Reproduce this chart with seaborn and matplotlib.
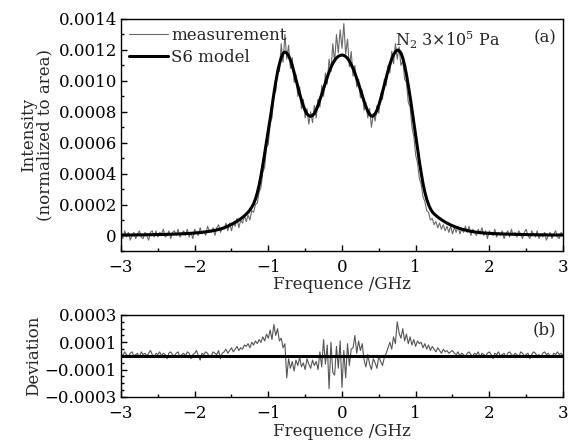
import numpy as np
import pandas as pd
import matplotlib
matplotlib.use("Agg")
import matplotlib.pyplot as plt
from matplotlib.ticker import MultipleLocator, AutoMinorLocator, FuncFormatter
import seaborn as sns

# ── Données (unités de 1e-5, pas de 0.025 GHz de -3 à 3) ─────────────────────
MODEL_S6 = [
    # -3.000 .. -0.025
    0.3, 0.3, 0.3, 0.3, 0.3, 0.3, 0.3, 0.3, 0.4, 0.4,
    0.4, 0.4, 0.4, 0.4, 0.5, 0.5, 0.5, 0.5, 0.5, 0.6,
    0.6, 0.6, 0.6, 0.7, 0.7, 0.7, 0.8, 0.8, 0.8, 0.9,
    0.9, 1.0, 1.0, 1.1, 1.1, 1.2, 1.3, 1.3, 1.4, 1.5,
    1.6, 1.7, 1.8, 1.9, 2.0, 2.2, 2.3, 2.5, 2.7, 2.9,
    3.1, 3.3, 3.6, 3.9, 4.2, 4.6, 5.0, 5.5, 6.0, 6.6,
    7.2, 7.8, 8.5, 9.2, 10.0, 10.8, 11.7, 12.7, 13.8, 15.0,
    16.5, 18.3, 20.5, 23.5, 27.5, 32.5, 38.5, 45.5, 53.0, 60.5,
    68.0, 75.5, 83.5, 91.5, 99.0, 105.5, 110.8, 115.0, 117.8, 118.6,
    118.0, 116.3, 113.4, 109.7, 105.4, 100.8, 96.2, 91.7, 87.5, 83.8,
    80.8, 78.6, 77.4, 77.1, 77.6, 78.9, 81.2, 84.2, 87.6, 91.2,
    95.0, 98.8, 102.4, 105.7, 108.7, 111.2, 113.2, 114.8, 115.8, 116.4,
    # 0.000 .. 3.000
    116.7, 116.4, 115.7, 114.5, 112.8, 110.6, 108.0, 105.0, 101.6, 98.0,
    94.2, 90.4, 86.7, 83.3, 80.4, 78.3, 77.2, 77.3, 78.6, 81.0,
    84.3, 88.3, 92.7, 97.3, 102.0, 106.5, 110.6, 114.1, 116.9, 118.9,
    119.9, 119.6, 118.0, 114.8, 110.0, 104.0, 97.0, 89.5, 81.5, 73.0,
    64.5, 56.0, 48.0, 40.5, 33.5, 28.0, 23.5, 20.0, 17.3, 15.3,
    14.0, 12.9, 11.9, 11.0, 10.2, 9.4, 8.7, 8.0, 7.4, 6.8,
    6.3, 5.8, 5.3, 4.9, 4.5, 4.1, 3.8, 3.5, 3.2, 2.9,
    2.7, 2.5, 2.3, 2.1, 2.0, 1.8, 1.7, 1.6, 1.5, 1.4,
    1.3, 1.3, 1.2, 1.2, 1.1, 1.1, 1.0, 1.0, 0.9, 0.9,
    0.9, 0.8, 0.8, 0.8, 0.7, 0.7, 0.7, 0.6, 0.6, 0.6,
    0.6, 0.5, 0.5, 0.5, 0.5, 0.5, 0.4, 0.4, 0.4, 0.4,
    0.4, 0.4, 0.3, 0.3, 0.3, 0.3, 0.3, 0.3, 0.3, 0.3,
    0.3,
]

MEASUREMENT = [
    1, -2, 3, -1, 2, -3, 0, 2, -2, 1, 3, -1, -2, 2, 0, -3, 2, 3, -1, 3,
    -1, 2, 1, 4, -1, 0, 3, -2, 2, 3, 0, 4, -1, 1, 3, 0, 4, -1, 2, -2,
    4, 2, 0, 5, 1, 3, 0, 6, 3, 2, 5, 0, 5, 7, 2, 5,
    4, 8, 3, 8, 3, 8, 6, 11, 5, 10, 8, 13, 9, 13, 10, 16, 15, 20, 21, 28,
    31, 41, 44, 57, 59, 73, 76, 92, 93, 109,
    106, 124, 112, 130, 114, 123, 108, 115, 99,
    104, 90, 96, 82, 88, 76, 82, 72, 80, 73, 84, 76, 88, 83, 97, 90,
    105, 98, 114, 106, 124, 112, 130, 118, 133, 121,
    137, 117, 127, 109, 119, 103, 110, 96, 101,
    89, 94, 81, 86, 76, 82, 70, 79, 74, 84, 79, 92, 88, 101,
    97, 110, 105, 119, 111, 124, 114, 122,
    110, 113, 101, 99, 86, 83, 70, 64, 52, 47, 37, 33, 25, 22, 16, 15, 10, 11, 7,
    9, 5, 8, 4, 7, 3, 6, 2, 6, 1, 5, 2, 6, 1, 4,
    2, 6, 2, 6, 0, 4, 2, 0, 4, 1, 5, 0, 3, -2, 3, 1, 0, 4, -1, 2,
    0, 3, -2, 1, 3, -1, 4, 0, 2, -1, 3, 1, -2, 2, 4, 0, -2, 3, 1, -1,
    3, -2, 1, -1, 2, -3, 0, 2, -2, 1, 3, -1, -2, 2, 0,
]

# écart modèle - mesure (panneau b)
DEVIATION = [
    2, 0, 3, 1, -1, 2, 3, 0, 1, 2, -1, 3, 1, 2, 0, 2, 4, 1, -1, 2,
    1, 3, 0, 2, 1, -2, 2, 3, 1, 0, 2, 3, -1, 1, 2, 0, 3, 2, -2, 1,
    2, 4, 0, -3, 2, 1, 3, 2, -1, 0, 3, 2, 1, 4, -2, 2,
    3, 5, 2, 4, 6, 3, 5, 7, 4, 6, 5, 8,
    7, 9, 6, 10, 8, 11, 9, 12,
    10, 14, 11, 16, 13, 19, 12, 23, 15, 20, 11,
    13, 6, 9,
    -16, -2, -9, -4, -11, -3, -7, -1, -8, -5, -10, -2, -6, -9, -3, -7, -4, -10,
    3, -8, 12, -6, 8, -24, 10, -12,
    -14, 7, -9, 11, -23, 4, -16, 9, -7, 5,
    6, 15, 2, 11, 4, 9,
    -3, -8, 1, -6, -10, -2, -5, -9, 0, -4, -7, -1, 2,
    6, 10, 5, 14, 9, 25, 17, 13, 20, 11, 16, 9, 14, 8, 12, 7, 11, 9,
    10, 6, 9, 5, 8, 4, 7, 5, 3, 6, 4, 2, 5, 3, 4, 2, 3, 4,
    2, 1, 3, 0, 2, 1, -1, 2, 3, 1, 0, 2, 1, 3, -1, 2, 1, 0, 2, 3,
    1, -2, 2, 1, 3, 0, 1, 2, -1, 2, 3, 1, 0, 2, 1, -1, 3, 2, 0, 1,
    2, -2, 1, 3, 2, 0, 1, -1, 2, 3, 1, 2, 0, -1, 2, 1, 3, 1, 2, 0,
]

FREQ_GHZ = np.linspace(-3, 3, 241)
SCALE = 1e-5
assert len(MODEL_S6) == len(MEASUREMENT) == len(DEVIATION) == 241

df = pd.DataFrame({
    "freq": FREQ_GHZ,
    "model": np.array(MODEL_S6) * SCALE,
    "measurement": np.array(MEASUREMENT) * SCALE,
    "dev": np.array(DEVIATION) * SCALE,
})

# ── Style ────────────────────────────────────────────────────────────────────
sns.set_theme(style="ticks")
plt.rcParams["font.family"] = ["DejaVu Serif"]
plt.rcParams["mathtext.fontset"] = "dejavuserif"
plt.rcParams["axes.linewidth"] = 1.0
plt.rcParams["axes.edgecolor"] = "black"

GRAY = "#6a6a6a"
FS = 12

fig = plt.figure(figsize=(5.74, 4.41), dpi=100)
ax1 = fig.add_axes([0.2108, 0.431, 0.770, 0.526])
ax2 = fig.add_axes([0.2108, 0.0998, 0.770, 0.186])

# Panneau (a)
sns.lineplot(data=df, x="freq", y="measurement", ax=ax1, color=GRAY, lw=0.8,
             estimator=None, sort=False, label="measurement")
sns.lineplot(data=df, x="freq", y="model", ax=ax1, color="black", lw=2.2,
             estimator=None, sort=False, label="S6 model")
ax1.set_xlim(-3, 3)
ax1.set_ylim(-0.0001, 0.0014)
ax1.yaxis.set_major_locator(MultipleLocator(0.0002))
ax1.yaxis.set_minor_locator(AutoMinorLocator(2))
ax1.yaxis.set_major_formatter(FuncFormatter(lambda v, p: "0" if abs(v) < 1e-12 else f"{v:.4f}"))
ax1.set_xlabel("Frequence /GHz", fontsize=FS, labelpad=0)
ax1.set_ylabel("Intensity\n(normalized to area)", fontsize=FS, linespacing=0.95, labelpad=4)
leg = ax1.legend(loc="upper left", frameon=False, fontsize=FS, handlelength=2.3,
                 handletextpad=0.2, borderaxespad=0.1, labelspacing=0.3)
ax1.text(0.62, 0.955, r"N$_2$ 3×10$^5$ Pa", transform=ax1.transAxes, fontsize=FS - 0.5,
         ha="left", va="top")
ax1.text(0.985, 0.955, "(a)", transform=ax1.transAxes, fontsize=FS, ha="right", va="top")

# Panneau (b)
sns.lineplot(data=df, x="freq", y="dev", ax=ax2, color="#555555", lw=0.8,
             estimator=None, sort=False)
ax2.axhline(0, color="black", lw=2.2)
ax2.set_xlim(-3, 3)
ax2.set_ylim(-0.0003, 0.0003)
ax2.yaxis.set_major_locator(MultipleLocator(0.0002, offset=0.0001))
ax2.yaxis.set_minor_locator(MultipleLocator(0.00005))
ax2.yaxis.set_major_formatter(FuncFormatter(lambda v, p: f"{v:.4f}".replace("-", "\u2212")))
ax2.set_xlabel("Frequence /GHz", fontsize=FS, labelpad=1)
ax2.set_ylabel("Deviation", fontsize=FS, labelpad=2)
ax2.text(0.985, 0.92, "(b)", transform=ax2.transAxes, fontsize=FS, ha="right", va="top")

for ax in (ax1, ax2):
    ax.xaxis.set_major_locator(MultipleLocator(1))
    ax.xaxis.set_minor_locator(MultipleLocator(0.5))
    ax.xaxis.set_major_formatter(FuncFormatter(lambda v, p: f"{v:.0f}".replace("-", "\u2212")))
    ax.tick_params(which="both", direction="in", top=False, right=False, labelsize=FS,
                   color="black", labelcolor="black", pad=3)
    ax.tick_params(axis="x", which="major", pad=5.5)
    ax.tick_params(which="major", length=4, width=1)
    ax.tick_params(which="minor", length=2.5, width=1)
    for s in ax.spines.values():
        s.set_visible(True)
        s.set_color("black")

fig.savefig("out.png", dpi=100)
